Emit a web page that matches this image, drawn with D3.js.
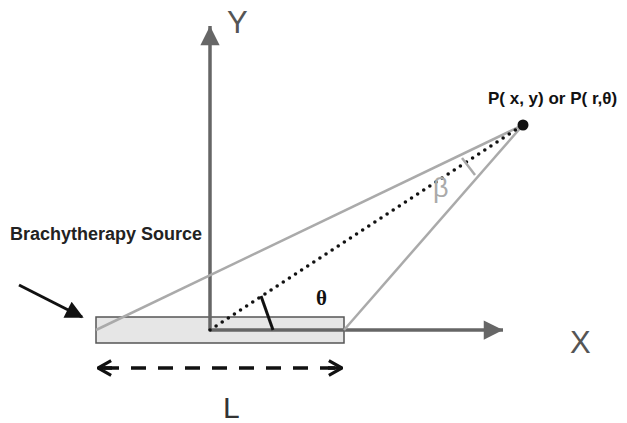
<!DOCTYPE html>
<html>
<head>
<meta charset="utf-8">
<script src="https://cdn.jsdelivr.net/npm/d3@7"></script>
<style>
  body { margin: 0; background: #fff; }
  text { font-family: "Liberation Sans", Arial, sans-serif; }
</style>
</head>
<body>
<div id="chart"></div>
<script>
// diagram geometry, in diagram units (origin = centre of the axes)
const origin = [0, 0];
const sourceX = [-114, 134];      // left / right end of the source
const sourceHalfH = 13;
const point = [313, 205];         // P(x, y)
const xAxisEnd = [293, 0];
const yAxisEnd = [0, 304];
const lengthArrowY = -38;
const thetaTick = [[51, 34], [63, 0]];
const betaTick = [[252, 172], [265, 155]];
const pointerArrow = [[-191, 45], [-128, 13]];

const labels = [
  { text: "Y", at: [17, 297], size: 31, color: "#555", weight: "normal" },
  { text: "X", at: [360, -23], size: 31, color: "#555", weight: "normal" },
  { text: "L", at: [13, -88], size: 30, color: "#333", weight: "normal" },
  { text: "Brachytherapy Source", at: [-200, 90], size: 18, color: "#222", weight: "bold" },
  { text: "P( x, y) or P( r,\u03b8)", at: [278, 226], size: 17, color: "#111", weight: "bold" }
];

const width = 627, height = 423;

const x = d3.scaleLinear().domain([-210, 417]).range([0, width]);
const y = d3.scaleLinear().domain([-93, 330]).range([height, 0]);

const svg = d3.select("#chart")
  .append("svg")
  .attr("width", width)
  .attr("height", height);

const defs = svg.append("defs");
defs.append("marker")
  .attr("id", "headGray")
  .attr("viewBox", "0 0 10 10")
  .attr("refX", 10).attr("refY", 5)
  .attr("markerWidth", 6).attr("markerHeight", 5.5)
  .attr("markerUnits", "strokeWidth")
  .attr("orient", "auto")
  .append("path").attr("d", "M0,0L10,5L0,10Z").attr("fill", "#666");
defs.append("marker")
  .attr("id", "headBlack")
  .attr("viewBox", "0 0 10 10")
  .attr("refX", 9).attr("refY", 5)
  .attr("markerWidth", 7.5).attr("markerHeight", 6)
  .attr("markerUnits", "strokeWidth")
  .attr("orient", "auto")
  .append("path").attr("d", "M0,0L10,5L0,10Z").attr("fill", "#111");
defs.append("marker")
  .attr("id", "chevron")
  .attr("viewBox", "0 0 12 12")
  .attr("refX", 11).attr("refY", 6)
  .attr("markerWidth", 5).attr("markerHeight", 5)
  .attr("markerUnits", "strokeWidth")
  .attr("orient", "auto-start-reverse")
  .append("path").attr("d", "M2,1L11,6L2,11")
  .attr("fill", "none").attr("stroke", "#111").attr("stroke-width", 2.2);

const line = d3.line().x(d => x(d[0])).y(d => y(d[1]));

// source rod
svg.append("rect")
  .attr("x", x(sourceX[0]))
  .attr("y", y(sourceHalfH))
  .attr("width", x(sourceX[1]) - x(sourceX[0]))
  .attr("height", y(-sourceHalfH) - y(sourceHalfH))
  .attr("fill", "#e6e6e6")
  .attr("stroke", "#555")
  .attr("stroke-width", 1.5);

// axes
svg.append("path")
  .attr("d", line([origin, xAxisEnd]))
  .attr("stroke", "#666").attr("stroke-width", 3.5).attr("fill", "none")
  .attr("marker-end", "url(#headGray)");
svg.append("path")
  .attr("d", line([origin, yAxisEnd]))
  .attr("stroke", "#666").attr("stroke-width", 3.5).attr("fill", "none")
  .attr("marker-end", "url(#headGray)");

// lines from the source ends to P
[[sourceX[0], 0], [sourceX[1], 0]].forEach(end => {
  svg.append("path")
    .attr("d", line([end, point]))
    .attr("stroke", "#aaa").attr("stroke-width", 2.5).attr("fill", "none");
});

// dotted radius r
svg.append("path")
  .attr("d", line([origin, point]))
  .attr("stroke", "#111").attr("stroke-width", 3.6)
  .attr("stroke-linecap", "round")
  .attr("stroke-dasharray", "0 7.3")
  .attr("fill", "none");

// angle ticks
svg.append("path")
  .attr("d", line(thetaTick))
  .attr("stroke", "#111").attr("stroke-width", 3).attr("fill", "none");
svg.append("path")
  .attr("d", line(betaTick))
  .attr("stroke", "#aaa").attr("stroke-width", 2.5).attr("fill", "none");

// point P
svg.append("circle")
  .attr("cx", x(point[0])).attr("cy", y(point[1]))
  .attr("r", 5.5).attr("fill", "#111");

// pointer arrow to the source
svg.append("path")
  .attr("d", line(pointerArrow))
  .attr("stroke", "#111").attr("stroke-width", 3).attr("fill", "none")
  .attr("marker-end", "url(#headBlack)");

// length L double arrow
svg.append("path")
  .attr("d", line([[sourceX[0] + 2, lengthArrowY], [sourceX[1] - 2, lengthArrowY]]))
  .attr("stroke", "#111").attr("stroke-width", 3.5).attr("fill", "none")
  .attr("stroke-dasharray", "15 12")
  .attr("stroke-dashoffset", -6)
  .attr("marker-start", "url(#chevron)")
  .attr("marker-end", "url(#chevron)");
svg.append("path")
  .attr("d", line([[sourceX[0] + 2, lengthArrowY], [sourceX[0] + 16, lengthArrowY]]))
  .attr("stroke", "#111").attr("stroke-width", 3.5);
svg.append("path")
  .attr("d", line([[sourceX[1] - 16, lengthArrowY], [sourceX[1] - 2, lengthArrowY]]))
  .attr("stroke", "#111").attr("stroke-width", 3.5);

// Greek letters
svg.append("text")
  .attr("x", x(106)).attr("y", y(25))
  .attr("font-weight", "bold")
  .attr("font-size", 21)
  .attr("fill", "#111")
  .style("font-family", "'Liberation Serif', 'DejaVu Serif', serif")
  .text("\u03b8");
svg.append("text")
  .attr("x", x(223)).attr("y", y(133))
  .attr("font-size", 27)
  .attr("fill", "#aaa")
  .text("\u03b2");

// labels
svg.selectAll("text.label")
  .data(labels)
  .enter()
  .append("text")
  .attr("class", "label")
  .attr("x", d => x(d.at[0]))
  .attr("y", d => y(d.at[1]))
  .attr("font-size", d => d.size)
  .attr("font-weight", d => d.weight)
  .attr("fill", d => d.color)
  .text(d => d.text);
</script>
</body>
</html>
